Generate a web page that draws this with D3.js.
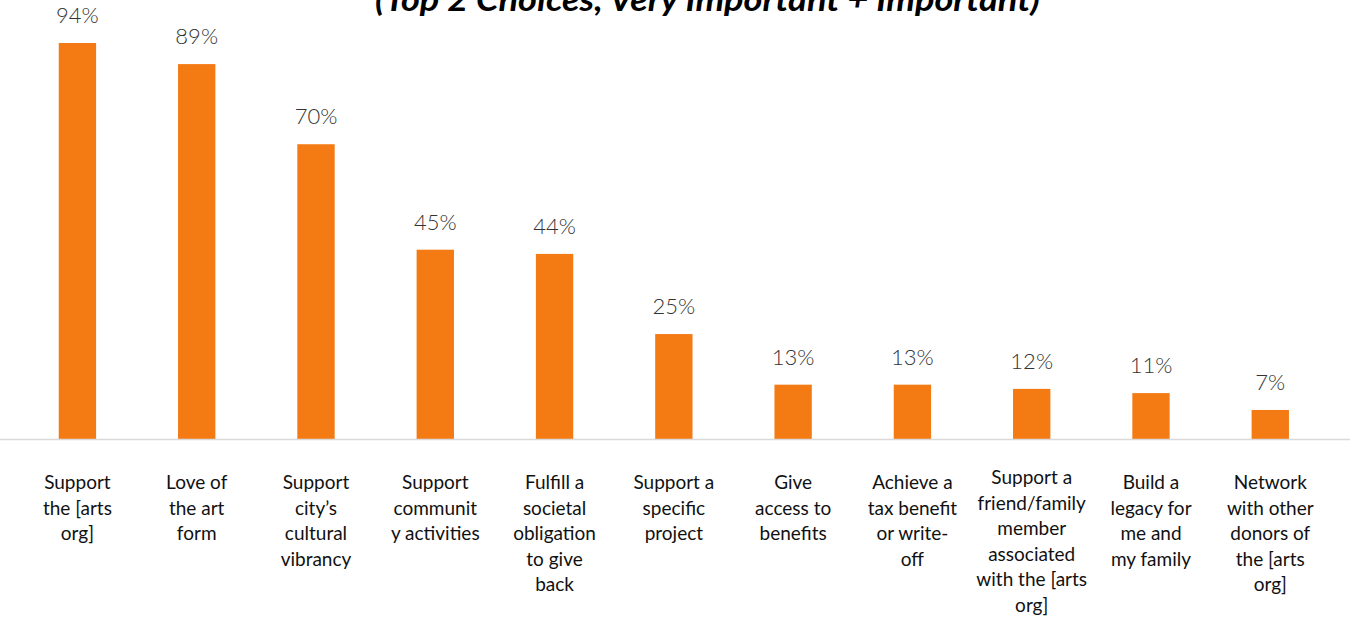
<!DOCTYPE html>
<html>
<head>
<meta charset="utf-8">
<script src="https://cdn.jsdelivr.net/npm/d3@7"></script>
<style>
  html, body { margin: 0; padding: 0; background: #ffffff; }
  svg { display: block; }
</style>
</head>
<body>
<svg id="chart" width="1350" height="621"></svg>
<script>
// Reasons for giving, share rating each as a top-2 choice
const categories = [
  "Support the [arts org]",
  "Love of the art form",
  "Support city's cultural vibrancy",
  "Support community activities",
  "Fulfill a societal obligation to give back",
  "Support a specific project",
  "Give access to benefits",
  "Achieve a tax benefit or write-off",
  "Support a friend/family member associated with the [arts org]",
  "Build a legacy for me and my family",
  "Network with other donors of the [arts org]"
];
const values = [94, 89, 70, 45, 44, 25, 13, 13, 12, 11, 7];
// Line breaks used for the category labels under each bar
const labelLines = [
  ["Support", "the [arts", "org]"],
  ["Love of", "the art", "form"],
  ["Support", "city\u2019s", "cultural", "vibrancy"],
  ["Support", "communit", "y activities"],
  ["Fulfill a", "societal", "obligation", "to give", "back"],
  ["Support a", "specific", "project"],
  ["Give", "access to", "benefits"],
  ["Achieve a", "tax benefit", "or write-", "off"],
  ["Support a", "friend/family", "member", "associated", "with the [arts", "org]"],
  ["Build a", "legacy for", "me and", "my family"],
  ["Network", "with other", "donors of", "the [arts", "org]"]
];
const titleText = "(Top 2 Choices, Very Important + Important)";

const svg = d3.select("#chart");
const W = 1350, H = 621;
const baseY = 439.5;

const x = d3.scaleBand()
  .domain(categories)
  .range([18.2, 1329.5])
  .paddingInner(0.687)
  .paddingOuter(0.34);

const y = d3.scaleLinear()
  .domain([0, 100])
  .range([baseY, baseY - 421.8]);

// Title (second line of the heading, top clipped by the frame)
svg.append("text")
  .attr("x", 375)
  .attr("y", 11)
  .attr("textLength", 665)
  .attr("lengthAdjust", "spacingAndGlyphs")
  .style("font-family", "Lato, 'Open Sans', sans-serif")
  .style("font-weight", 700)
  .style("font-style", "italic")
  .style("font-size", "33px")
  .style("fill", "#000")
  .text(titleText);

// Bars
svg.append("g")
  .selectAll("rect")
  .data(values)
  .join("rect")
  .attr("x", (d, i) => x(categories[i]))
  .attr("y", d => y(d))
  .attr("width", x.bandwidth())
  .attr("height", d => baseY - y(d))
  .attr("fill", "#F47A14");

// Baseline axis
const xAxis = d3.axisBottom(x).tickSize(0).tickFormat("");
const axisG = svg.append("g")
  .attr("transform", `translate(0,${baseY})`)
  .call(xAxis);
axisG.select(".domain").remove();
axisG.append("line")
  .attr("x1", 0).attr("x2", W)
  .attr("y1", 0).attr("y2", 0)
  .attr("stroke", "#d9d9d9")
  .attr("stroke-width", 1.5);

// Value labels
svg.append("g")
  .selectAll("text")
  .data(values)
  .join("text")
  .attr("x", (d, i) => x(categories[i]) + x.bandwidth() / 2)
  .attr("y", d => y(d) - 20)
  .attr("text-anchor", "middle")
  .style("font-family", "Lato, sans-serif")
  .style("font-weight", 300)
  .style("font-size", "22px")
  .style("fill", "#333")
  .text(d => d + "%");

// Category labels
const lh = 25.6, firstBase = 489, lastLimit = 612;
const catG = svg.append("g")
  .selectAll("text")
  .data(labelLines)
  .join("text")
  .attr("text-anchor", "middle")
  .style("font-family", "Lato, sans-serif")
  .style("font-size", "19px")
  .style("fill", "#111");
catG.each(function (lines, i) {
  const cx = x(categories[i]) + x.bandwidth() / 2;
  const start = Math.min(firstBase, lastLimit - (lines.length - 1) * lh);
  d3.select(this).selectAll("tspan")
    .data(lines)
    .join("tspan")
    .attr("x", cx)
    .attr("y", (l, j) => start + j * lh)
    .text(l => l);
});
</script>
</body>
</html>
